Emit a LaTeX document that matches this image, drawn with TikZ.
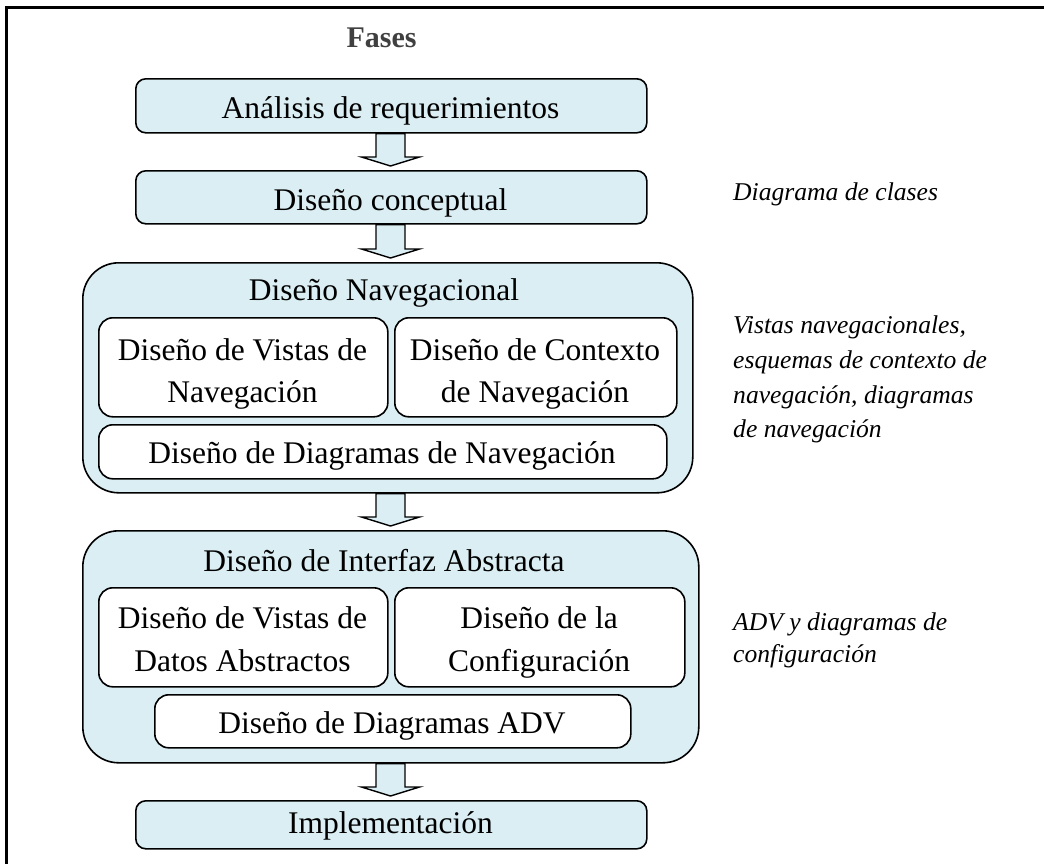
\documentclass[tikz,border=0pt]{standalone}
\usepackage{fontspec}
\setmainfont{Liberation Serif}
\usetikzlibrary{calc}
\definecolor{phasefill}{HTML}{DAEEF3}
\definecolor{headgray}{HTML}{404040}
\tikzset{
  phase/.style={draw, line width=1.6pt, fill=phasefill, rounded corners=10pt,
    inner sep=0pt, anchor=north west},
  group/.style={phase, rounded corners=36pt},
  sub/.style={draw, line width=1.6pt, fill=white, rounded corners=14pt,
    inner sep=0pt, anchor=north west},
  lbl/.style={anchor=base, inner sep=0pt, font=\fontsize{31.5}{36}\selectfont},
  note/.style={anchor=base west, inner sep=0pt, font=\fontsize{25.6}{30}\selectfont\itshape},
  barrow/.style={draw, line width=1.4pt, fill=phasefill, line join=miter},
}
% block arrow from the bottom of #1 down to just above the top of #2
\newcommand\blockarrow[2]{%
  \draw[barrow]
    ($(axis |- #1.south)+(-14.5,0)$) -- ($(axis |- #2.north)+(-14.5,-13)$)
    -- ($(axis |- #2.north)+(-29,-13)$) -- ($(axis |- #2.north)+(0,-4)$)
    -- ($(axis |- #2.north)+(29,-13)$) -- ($(axis |- #2.north)+(14.5,-13)$)
    -- ($(axis |- #1.south)+(14.5,0)$) -- cycle;}
\begin{document}
\begin{tikzpicture}[x=1pt, y=-1pt]
  \useasboundingbox (0,0) rectangle (1044,863);
  % outer frame
  \draw[line width=3pt] (6.5,870) -- (6.5,7) -- (1050,7);
  \coordinate (axis) at (390.5,0);

  \node[anchor=base, inner sep=0pt, text=headgray,
        font=\fontsize{30}{36}\selectfont\bfseries] (title) at (381.5,47) {Fases};

  % phases
  \node[phase, minimum width=511pt, minimum height=54pt] (req) at (135,78) {};
  \node[lbl] (reqT) at (390.5,118) {Análisis de requerimientos};

  \node[phase, minimum width=511pt, minimum height=53pt] (conc) at (135,170) {};
  \node[lbl] (concT) at (390.5,210) {Diseño conceptual};

  \node[group, minimum width=610pt, minimum height=230pt] (nav) at (82,262) {};
  \node[lbl] (navT) at (384,300) {Diseño Navegacional};
  \node[sub, minimum width=289pt, minimum height=99pt] (navA) at (98,317) {};
  \node[lbl] (navA1) at (242.5,360) {Diseño de Vistas de};
  \node[lbl] (navA2) at (242.5,402) {Navegación};
  \node[sub, minimum width=282pt, minimum height=99pt] (navB) at (394,317) {};
  \node[lbl] (navB1) at (535,360) {Diseño de Contexto};
  \node[lbl] (navB2) at (535,402) {de Navegación};
  \node[sub, minimum width=568pt, minimum height=54pt] (navC) at (98,424) {};
  \node[lbl] (navC1) at (382,463) {Diseño de Diagramas de Navegación};

  \node[group, minimum width=616pt, minimum height=232pt] (abs) at (82,530) {};
  \node[lbl] (absT) at (384,571) {Diseño de Interfaz Abstracta};
  \node[sub, minimum width=289pt, minimum height=99pt] (absA) at (98,587) {};
  \node[lbl] (absA1) at (242.5,628) {Diseño de Vistas de};
  \node[lbl] (absA2) at (242.5,671) {Datos Abstractos};
  \node[sub, minimum width=290pt, minimum height=99pt] (absB) at (394,587) {};
  \node[lbl] (absB1) at (539,628) {Diseño de la};
  \node[lbl] (absB2) at (539,671) {Configuración};
  \node[sub, minimum width=476pt, minimum height=53pt] (absC) at (154,694) {};
  \node[lbl] (absC1) at (392,733) {Diseño de Diagramas ADV};

  \node[phase, minimum width=511pt, minimum height=48pt] (impl) at (135,800) {};
  \node[lbl] (implT) at (390.5,833) {Implementación};

  % flow between phases
  \blockarrow{req}{conc}
  \blockarrow{conc}{nav}
  \blockarrow{nav}{abs}
  \blockarrow{abs}{impl}

  % products of each phase
  \node[note] (n1) at (733,200) {Diagrama de clases};
  \node[note] (n2a) at (733,333) {Vistas navegacionales,};
  \node[note] (n2b) at (733,368) {esquemas de contexto de};
  \node[note] (n2c) at (733,403) {navegación, diagramas};
  \node[note] (n2d) at (733,437) {de navegación};
  \node[note] (n3a) at (733,630) {ADV y diagramas de};
  \node[note] (n3b) at (733,662) {configuración};
\end{tikzpicture}
\end{document}
